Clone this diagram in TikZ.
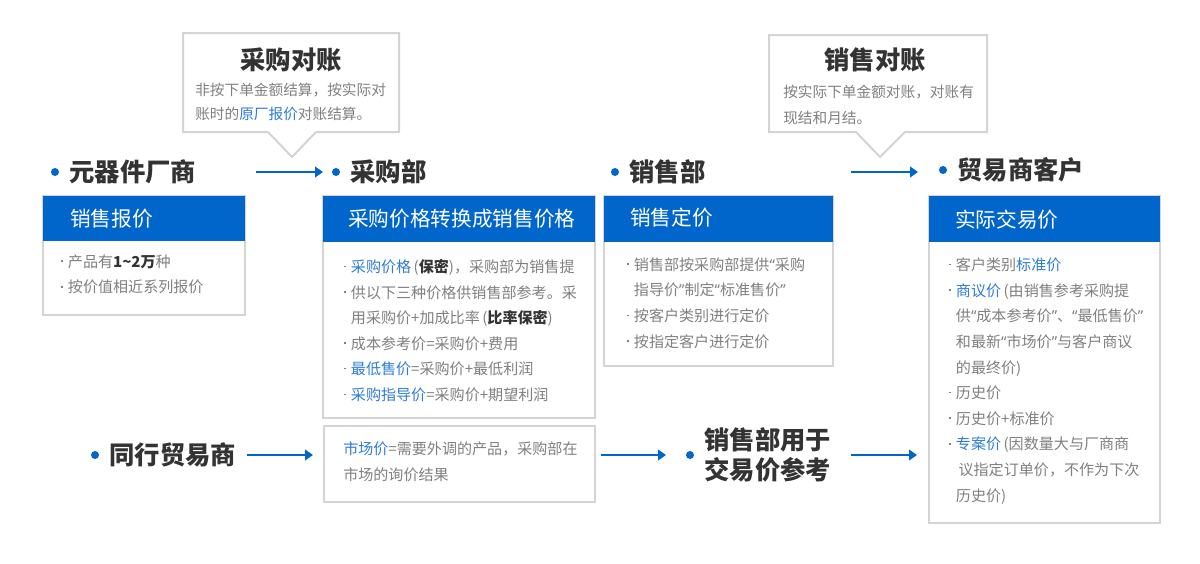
\documentclass[tikz,border=0pt]{standalone}
\usepackage{fontspec}
\setmainfont{Noto Sans CJK SC}
\newfontfamily\quotefont{Noto Sans}
\usepackage{tikz}
\usetikzlibrary{positioning, arrows.meta}
\definecolor{mainblue}{RGB}{0,102,204}
\definecolor{linkblue}{RGB}{45,125,215}
\definecolor{txtgray}{RGB}{128,128,128}
\definecolor{ttlgray}{RGB}{51,51,51}
\definecolor{linegray}{RGB}{212,212,212}
\newcommand{\dotit}{\makebox[5pt][l]{\raisebox{0.36em}{\rule{1.1pt}{1.1pt}}}}
\newcommand{\indt}{\hspace*{5pt}}
\newcommand{\blu}[1]{\textcolor{linkblue}{#1}}
\newcommand{\bk}[1]{\textbf{\textcolor{ttlgray}{#1}}}
\newcommand{\oq}{{\quotefont “}}
\newcommand{\cq}{{\quotefont ”}}

\begin{document}
\begin{tikzpicture}[x=0.75pt,y=-0.75pt,
   dot/.style={circle, fill=mainblue, inner sep=0pt, minimum size=6pt},
   ttl/.style={anchor=west, inner sep=0pt, text=ttlgray, align=left,
     font=\fontsize{19}{22.5}\selectfont\bfseries},
   hdtxt/.style={anchor=west, inner sep=0pt, text=white,
     font=\fontsize{15.5}{18}\selectfont},
   body/.style={anchor=west, inner sep=0pt, text=txtgray, align=left,
     font=\fontsize{11.3}{19.2}\selectfont},
   frame/.style={draw=linegray, line width=1.5pt, fill=white},
   flow/.style={draw=mainblue, line width=1.5pt, -{Triangle[length=6pt,width=8pt]}}]
\fill[white] (0,0) rectangle (1200,564);
\useasboundingbox (0,0) rectangle (1200,564);

% callouts
\draw[frame] (183,33) -- (399,33) -- (399,132) -- (316,132) -- (292,157)
   -- (268,132) -- (183,132) -- cycle;
\node[ttl, anchor=center] (c1) at (291,60) {采购对账};
\node[body, font=\fontsize{11}{18.5}\selectfont] (c1t) at (195,102)
   {非按下单金额结算，按实际对\\账时的\blu{原厂报价}对账结算。};
\draw[frame] (769,35) -- (987,35) -- (987,132) -- (905,132) -- (880,157)
   -- (856,132) -- (769,132) -- cycle;
\node[ttl, anchor=center] (c2) at (875,60) {销售对账};
\node[body, font=\fontsize{11}{19.5}\selectfont] (c2t) at (783,105)
   {按实际下单金额对账，对账有\\现结和月结。};

% titles
\node[dot] (b1) at (55,172) {};
\node[ttl, right=7.5pt of b1] (t1) {元器件厂商};
\node[dot] (b2) at (336,172) {};
\node[ttl, right=7.5pt of b2] (t2) {采购部};
\node[dot] (b3) at (615,172) {};
\node[ttl, right=7.5pt of b3] (t3) {销售部};
\node[dot] (b4) at (943,170) {};
\node[ttl, right=7.5pt of b4] (t4) {贸易商客户};
\node[dot] (b5) at (95,455) {};
\node[ttl, right=7.5pt of b5] (t5) {同行贸易商};
\node[dot] (b6) at (690,455) {};
\node[ttl, right=7.5pt of b6] (t6) {销售部用于\\交易价参考};

% boxes
\draw[frame] (43,196) rectangle (245,315);
\fill[mainblue] (43,196) rectangle (245,241);
\node[hdtxt] (h1) at (70,219) {销售报价};
\node[body] (p1) at (61,274.5)
   {\dotit 产品有\bk{1\textasciitilde 2万}种\\
    \dotit 按价值相近系列报价};

\draw[frame] (323,196) rectangle (595,418);
\fill[mainblue] (323,196) rectangle (595,242);
\node[hdtxt] (h2) at (348,219) {采购价格转换成销售价格};
\node[body] (p2) at (344,330.5)
   {\dotit\blu{采购价格}\,(\bk{保密})，采购部为销售提\\
    \dotit 供以下三种价格供销售部参考。采\\
    \indt 用采购价+加成比率\,(\bk{比率保密})\\
    \dotit 成本参考价=采购价+费用\\
    \dotit\blu{最低售价}=采购价+最低利润\\
    \dotit\blu{采购指导价}=采购价+期望利润};

\draw[frame] (604,196) rectangle (833,366);
\fill[mainblue] (604,196) rectangle (833,242);
\node[hdtxt] (h3) at (630,218) {销售定价};
\node[body] (p3) at (627,303)
   {\dotit 销售部按采购部提供\oq 采购\\
    \indt 指导价\cq 制定\oq 标准售价\cq\\
    \dotit 按客户类别进行定价\\
    \dotit 按指定客户进行定价};

\draw[frame] (929,196) rectangle (1160,523);
\fill[mainblue] (929,196) rectangle (1160,242);
\node[hdtxt] (h4) at (955,220) {实际交易价};
\node[body] (p4) at (949,381)
   {\dotit 客户类别\blu{标准价}\\
    \dotit\blu{商议价}\,(由销售参考采购提\\
    \indt 供\oq 成本参考价\cq 、\oq 最低售价\cq\\
    \indt 和最新\oq 市场价\cq 与客户商议\\
    \indt 的最终价)\\
    \dotit 历史价\\
    \dotit 历史价+标准价\\
    \dotit\blu{专案价}\,(因数量大与厂商商\\
    \indt\hspace*{2pt}议指定订单价，不作为下次\\
    \indt 历史价)};

\draw[frame] (324,426) rectangle (595,502);
\node[body] (p5) at (343,462)
   {\blu{市场价}=需要外调的产品，采购部在\\市场的询价结果};

% arrows
\coordinate (a1s) at (256,172); \coordinate (a1e) at (323,172);
\coordinate (a2s) at (851,172); \coordinate (a2e) at (918,172);
\coordinate (a3s) at (247,455); \coordinate (a3e) at (313,455);
\coordinate (a4s) at (601,455); \coordinate (a4e) at (666,455);
\coordinate (a5s) at (851,455); \coordinate (a5e) at (917,455);
\draw[flow] (a1s) -- (a1e);
\draw[flow] (a2s) -- (a2e);
\draw[flow] (a3s) -- (a3e);
\draw[flow] (a4s) -- (a4e);
\draw[flow] (a5s) -- (a5e);
\end{tikzpicture}
\end{document}
